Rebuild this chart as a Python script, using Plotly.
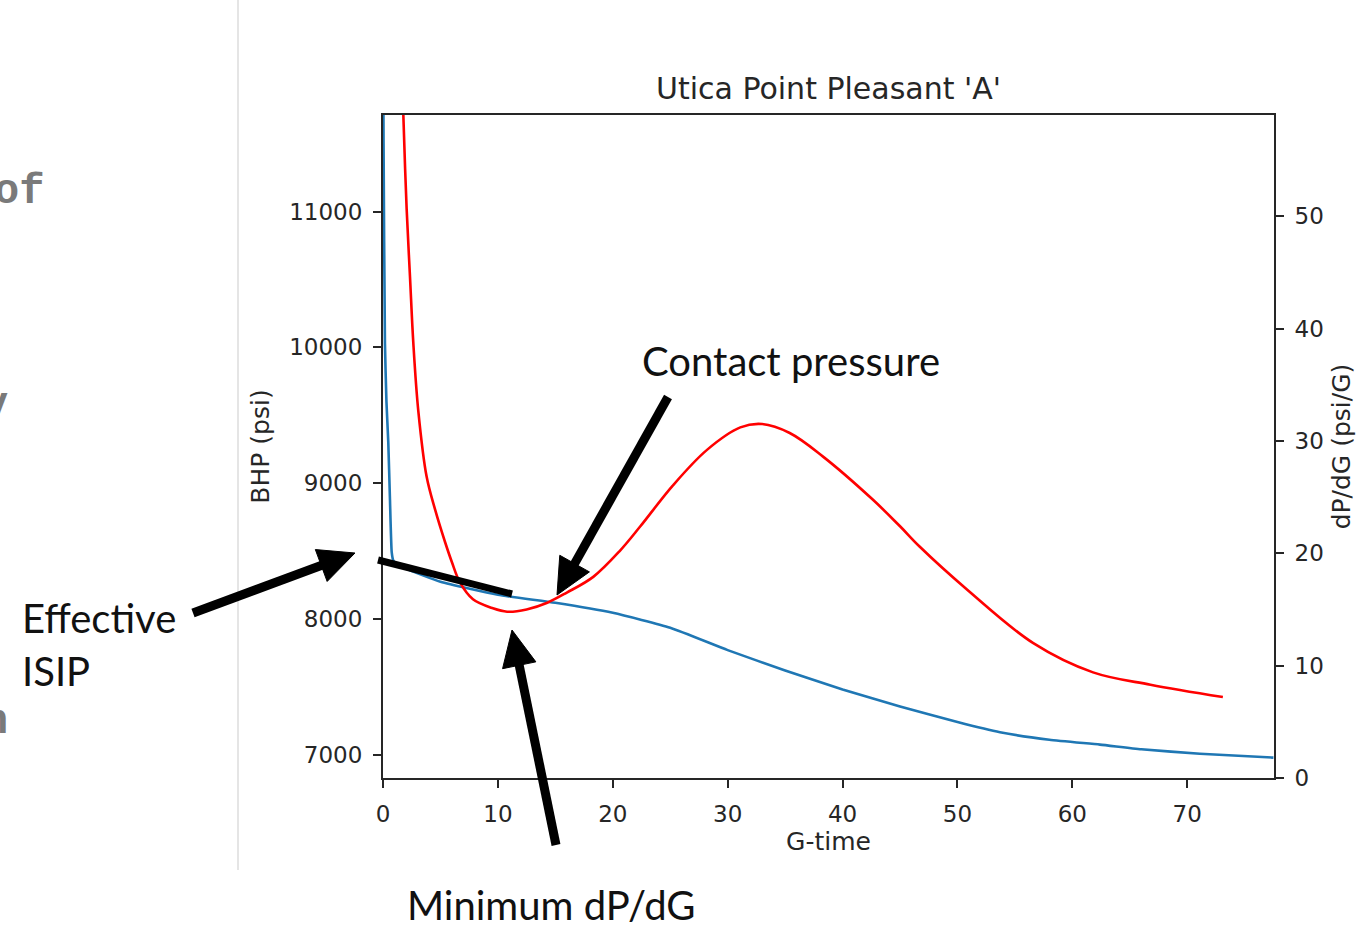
import plotly.graph_objects as go

# ---------------- data ----------------
g_time_bhp = [0.0, 0.05, 0.17, 0.3, 0.46, 0.6, 0.76, 0.9, 1.2, 2.0, 5.0, 10.0, 15.0, 20.0, 25.0,
              30.0, 35.0, 40.0, 45.0, 50.0, 53.7, 58.0, 62.4, 66.0, 71.1, 77.5]
bhp_psi = [12500, 11500, 10030, 9600, 9300, 8900, 8490, 8430, 8405, 8370, 8274, 8178, 8119, 8045,
           7935, 7770, 7620, 7480, 7355, 7240, 7165, 7110, 7074, 7040, 7007, 6978]

g_time_dpdg = [1.7, 1.77, 2.06, 2.35, 2.64, 3.07, 3.8, 4.53, 5.4, 6.0, 6.7, 7.83, 9.57, 10.8, 12.5,
               14.3, 16.0, 18.3, 20.6, 22.4, 25.2, 28.2, 31.1, 33.0, 35.4, 38.3, 42.6, 45.0, 46.7,
               50.8, 56.6, 61.8, 66.8, 73.1]
dpdg = [62.0, 59.0, 50.6, 44.6, 38.7, 32.7, 26.8, 23.9, 21.0, 19.2, 17.4, 15.9, 15.1, 14.8, 15.0,
        15.6, 16.5, 17.9, 20.2, 22.4, 26.0, 29.2, 31.2, 31.5, 30.7, 28.6, 24.8, 22.4, 20.6,
        16.8, 12.0, 9.4, 8.3, 7.2]

x_ticks = [0, 10, 20, 30, 40, 50, 60, 70]
bhp_ticks = [7000, 8000, 9000, 10000, 11000]
dpdg_ticks = [0, 10, 20, 30, 40, 50]

title_text = "Utica Point Pleasant 'A'"
x_title = "G-time"
y_title = "BHP (psi)"
y2_title = "dP/dG (psi/G)"
callouts = ["Contact pressure", "Effective", "ISIP", "Minimum dP/dG"]
side_text = ["of", "y", "n"]

# ---------------- layout geometry ----------------
W, H = 1367, 926
L, R, T, B = 383, 1274, 115, 778


def pp(x, y):
    return (x - L) / (R - L), (B - y) / (B - T)


INK = "#262626"
TICK_FONT = dict(family="DejaVu Sans", size=23, color=INK)
LABEL_FONT = dict(family="DejaVu Sans", size=25, color=INK)
AX = dict(showline=True, linecolor=INK, linewidth=2, mirror=True, ticks="outside",
          ticklen=8, tickwidth=2, tickcolor=INK, showgrid=False, zeroline=False,
          tickfont=TICK_FONT, ticklabelstandoff=6, tickformat="d")

fig = go.Figure()
fig.add_trace(go.Scatter(x=g_time_bhp, y=bhp_psi, mode="lines", yaxis="y",
                         line=dict(color="#1f77b4", width=2.6, shape="spline", smoothing=0.5),
                         showlegend=False))
fig.add_trace(go.Scatter(x=g_time_dpdg, y=dpdg, mode="lines", yaxis="y2",
                         line=dict(color="#ff0000", width=2.6, shape="spline", smoothing=1.0),
                         showlegend=False))

fig.update_layout(
    width=W, height=H, autosize=False,
    margin=dict(l=L, r=W - R, t=T, b=H - B, pad=0),
    paper_bgcolor="white", plot_bgcolor="white",
    title=dict(text=title_text, x=0.5, xref="paper", y=1 - 88 / H, yref="container",
               xanchor="center", yanchor="middle",
               font=dict(family="DejaVu Sans", size=30, color=INK)),
    xaxis=dict(range=[0, 77.55], tickvals=x_ticks,
               title=dict(text=x_title, standoff=6, font=LABEL_FONT), **AX),
    yaxis=dict(range=[6828, 11712], tickvals=bhp_ticks,
               title=dict(text=y_title, standoff=12, font=LABEL_FONT), **AX),
    yaxis2=dict(range=[0, 59.0], tickvals=dpdg_ticks, overlaying="y", side="right",
                title=dict(text=y2_title, standoff=10, font=LABEL_FONT), **AX),
)

shapes = []
# slide divider line
x0, y0 = pp(238, 0)
x1, y1 = pp(238, 870)
shapes.append(dict(type="line", xref="paper", yref="paper", x0=x0, y0=y0, x1=x1, y1=y1,
                   line=dict(color="#dcdcdc", width=1.5)))
# tangent line
x0, y0 = pp(378, 560)
x1, y1 = pp(512, 594)
shapes.append(dict(type="line", xref="paper", yref="paper", x0=x0, y0=y0, x1=x1, y1=y1,
                   line=dict(color="black", width=7)))

# arrows
arrow_tails = [(193, 613), (668, 397), (556, 845)]
arrow_tips = [(355, 553), (557, 595), (512, 630)]
HEAD_LEN, HEAD_HALF, SHAFT_W = 36, 17, 9
for (tx, ty), (hx, hy) in zip(arrow_tails, arrow_tips):
    dx, dy = hx - tx, hy - ty
    ln = (dx * dx + dy * dy) ** 0.5
    ux, uy = dx / ln, dy / ln
    nx, ny = -uy, ux
    bx, by = hx - ux * HEAD_LEN, hy - uy * HEAD_LEN
    a0 = pp(tx, ty)
    a1 = pp(bx + ux * 2, by + uy * 2)
    shapes.append(dict(type="line", xref="paper", yref="paper", x0=a0[0], y0=a0[1], x1=a1[0], y1=a1[1],
                       line=dict(color="black", width=SHAFT_W)))
    p1 = pp(hx, hy)
    p2 = pp(bx + nx * HEAD_HALF, by + ny * HEAD_HALF)
    p3 = pp(bx - nx * HEAD_HALF, by - ny * HEAD_HALF)
    path = f"M {p1[0]} {p1[1]} L {p2[0]} {p2[1]} L {p3[0]} {p3[1]} Z"
    shapes.append(dict(type="path", xref="paper", yref="paper", path=path,
                       fillcolor="black", line=dict(color="black", width=1)))
fig.update_layout(shapes=shapes)

CALL_FONT = dict(family="Lato", size=40, color="#111111")
ann = []
for text, (x, y) in zip(callouts, [(640, 361), (20, 618), (20, 671), (405, 905)]):
    px, py = pp(x, y)
    ann.append(dict(text=text, x=px, y=py, xref="paper", yref="paper", xanchor="left",
                    yanchor="middle", showarrow=False, font=CALL_FONT))
SIDE_FONT = dict(family="Liberation Mono", size=42, color="#7a7a7a")
for text, (x, y) in zip(side_text, [(46, 192), (10, 405), (10, 722)]):
    px, py = pp(x, y)
    ann.append(dict(text=f"<b>{text}</b>", x=px, y=py, xref="paper", yref="paper", xanchor="right",
                    yanchor="middle", showarrow=False, font=SIDE_FONT))
fig.update_layout(annotations=ann)

fig.write_html("out.html", config={"displayModeBar": False},
               post_script="document.body.style.margin='0';document.body.style.overflow='hidden';")
